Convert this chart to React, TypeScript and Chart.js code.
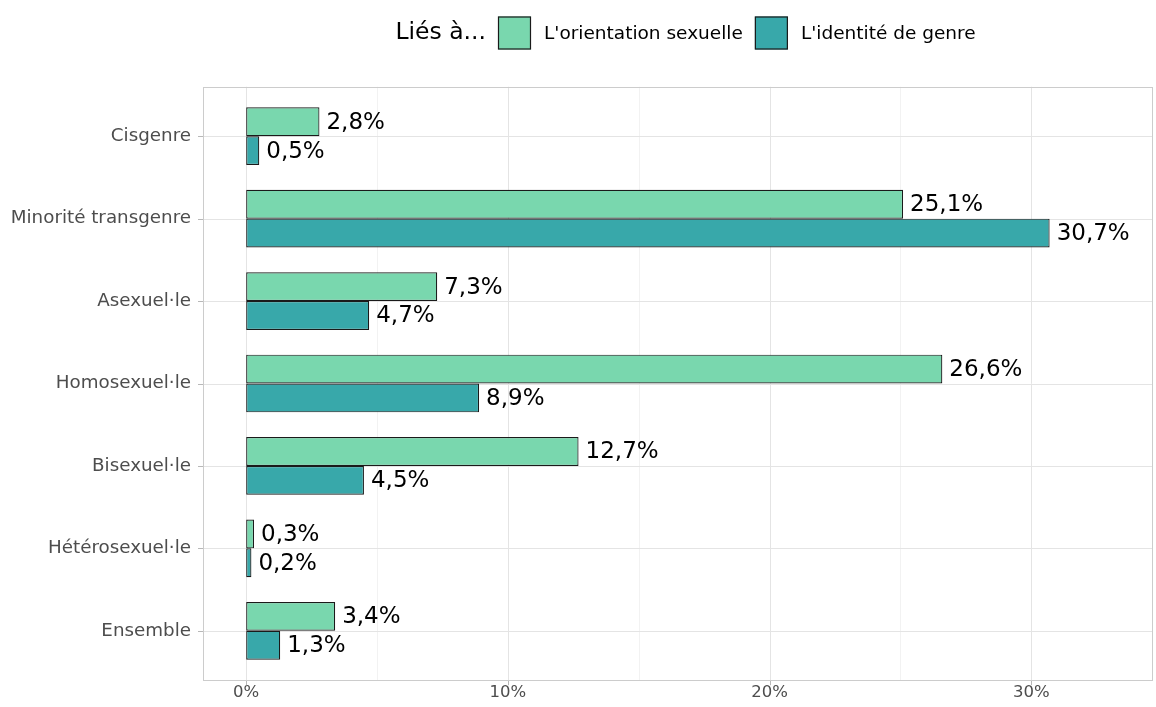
import React, { useEffect, useRef } from "react";
import { Chart, registerables } from "chart.js";

Chart.register(...registerables);

const categories = [
  "Cisgenre",
  "Minorité transgenre",
  "Asexuel·le",
  "Homosexuel·le",
  "Bisexuel·le",
  "Hétérosexuel·le",
  "Ensemble",
];
const orientationValues = [2.8, 25.1, 7.3, 26.6, 12.7, 0.3, 3.4];
const identiteValues = [0.5, 30.7, 4.7, 8.9, 4.5, 0.2, 1.3];
const seriesLabels = ["L'orientation sexuelle", "L'identité de genre"];
const legendTitle = "Liés à...";
const majorTicks = [0, 10, 20, 30];
const minorTicks = [5, 15, 25];

const GREEN = "#79D7AE";
const TEAL = "#38A8AA";
const FONT = "'DejaVu Sans', sans-serif";

const fmt = (v: number) => v.toFixed(1).replace(".", ",") + "%";

const panelPlugin = {
  id: "panel",
  beforeDatasetsDraw(chart: any) {
    const { ctx, chartArea, scales } = chart;
    const x = scales.x;
    const y = scales.y;
    const unit = y.getPixelForValue(1) - y.getPixelForValue(0);
    const top = chartArea.top - 0.1 * unit;
    const bottom = chartArea.bottom + 0.1 * unit;
    const left = chartArea.left;
    const right = chartArea.right;
    ctx.save();
    ctx.lineWidth = 1;
    ctx.strokeStyle = "#F2F2F2";
    minorTicks.forEach((t) => {
      const px = Math.round(x.getPixelForValue(t)) + 0.5;
      ctx.beginPath();
      ctx.moveTo(px, top);
      ctx.lineTo(px, bottom);
      ctx.stroke();
    });
    ctx.strokeStyle = "#E4E4E4";
    majorTicks.forEach((t) => {
      const px = Math.round(x.getPixelForValue(t)) + 0.5;
      ctx.beginPath();
      ctx.moveTo(px, top);
      ctx.lineTo(px, bottom);
      ctx.stroke();
    });
    categories.forEach((_, i) => {
      const py = Math.round(y.getPixelForValue(i)) + 0.5;
      ctx.beginPath();
      ctx.moveTo(left, py);
      ctx.lineTo(right, py);
      ctx.stroke();
    });
    ctx.strokeStyle = "#B8B8B8";
    categories.forEach((_, i) => {
      const py = Math.round(y.getPixelForValue(i)) + 0.5;
      ctx.beginPath();
      ctx.moveTo(left - 5, py);
      ctx.lineTo(left, py);
      ctx.stroke();
    });
    majorTicks.forEach((t) => {
      const px = Math.round(x.getPixelForValue(t)) + 0.5;
      ctx.beginPath();
      ctx.moveTo(px, bottom);
      ctx.lineTo(px, bottom + 5);
      ctx.stroke();
    });
    ctx.strokeStyle = "#CCCCCC";
    ctx.strokeRect(
      Math.round(left) + 0.5,
      Math.round(top) + 0.5,
      Math.round(right - left) - 1,
      Math.round(bottom - top)
    );
    ctx.restore();
  },
  afterDatasetsDraw(chart: any) {
    const { ctx } = chart;
    ctx.save();
    ctx.font = `23px ${FONT}`;
    ctx.fillStyle = "#000";
    ctx.textBaseline = "middle";
    ctx.textAlign = "left";
    chart.data.datasets.forEach((ds: any, di: number) => {
      const meta = chart.getDatasetMeta(di);
      meta.data.forEach((bar: any, i: number) => {
        ctx.fillText(fmt(ds.data[i]), bar.x + 7, bar.y + 1);
      });
    });
    ctx.restore();
  },
  afterDraw(chart: any) {
    const { ctx } = chart;
    ctx.save();
    const box = 33;
    const cy = 33;
    ctx.textBaseline = "middle";
    ctx.textAlign = "left";
    ctx.font = `23.5px ${FONT}`;
    const titleW = ctx.measureText(legendTitle).width;
    ctx.font = `18.5px ${FONT}`;
    const w0 = ctx.measureText(seriesLabels[0]).width;
    const w1 = ctx.measureText(seriesLabels[1]).width;
    const total = titleW + 12 + box + 13 + w0 + 12 + box + 13 + w1;
    let cx = 685.5 - total / 2;
    ctx.fillStyle = "#000";
    ctx.font = `23.5px ${FONT}`;
    ctx.fillText(legendTitle, cx, cy);
    cx += titleW + 12;
    const colors = [GREEN, TEAL];
    const widths = [w0, w1];
    seriesLabels.forEach((lab, i) => {
      ctx.fillStyle = colors[i];
      ctx.fillRect(cx, cy - box / 2, box, box);
      ctx.strokeStyle = "#1A1A1A";
      ctx.lineWidth = 1.2;
      ctx.strokeRect(cx + 0.5, cy - box / 2 + 0.5, box - 1, box - 1);
      cx += box + 13;
      ctx.fillStyle = "#000";
      ctx.font = `18.5px ${FONT}`;
      ctx.fillText(lab, cx, cy + 1);
      cx += widths[i] + 12;
    });
    ctx.restore();
  },
};

export default function App() {
  const ref = useRef<HTMLCanvasElement | null>(null);
  useEffect(() => {
    document.body.style.margin = "0";
    const canvas = ref.current!;
    const chart = new Chart(canvas, {
      type: "bar",
      data: {
        labels: categories,
        datasets: [
          {
            label: seriesLabels[0],
            data: orientationValues,
            backgroundColor: GREEN,
            borderColor: "#1A1A1A",
            borderWidth: 1.2,
            borderSkipped: false,
            categoryPercentage: 0.7,
            barPercentage: 1.0,
          },
          {
            label: seriesLabels[1],
            data: identiteValues,
            backgroundColor: TEAL,
            borderColor: "#1A1A1A",
            borderWidth: 1.2,
            borderSkipped: false,
            categoryPercentage: 0.7,
            barPercentage: 1.0,
          },
        ],
      },
      options: {
        indexAxis: "y",
        responsive: false,
        animation: false,
        layout: { padding: { top: 95, right: 3, left: 0, bottom: 0 } },
        plugins: {
          legend: { display: false },
          tooltip: { enabled: false },
        },
        scales: {
          x: {
            type: "linear",
            min: -1.65,
            max: 34.65,
            grid: { display: false, drawTicks: false },
            border: { display: false },
            afterBuildTicks: (scale: any) => {
              scale.ticks = majorTicks.map((v) => ({ value: v }));
            },
            afterFit: (scale: any) => {
              scale.height = 35;
            },
            ticks: {
              padding: 11,
              color: "#4D4D4D",
              font: { family: FONT, size: 16.5 },
              callback: (v: any) => `${v}%`,
              maxRotation: 0,
            },
          },
          y: {
            type: "category",
            offset: true,
            grid: { display: false, drawTicks: false },
            border: { display: false },
            afterFit: (scale: any) => {
              scale.width = 203;
            },
            ticks: {
              padding: 12,
              color: "#4D4D4D",
              font: { family: FONT, size: 18.3 },
            },
          },
        },
      } as any,
      plugins: [panelPlugin],
    });
    return () => chart.destroy();
  }, []);
  return <canvas ref={ref} width={1156} height={707} style={{ display: "block" }} />;
}
